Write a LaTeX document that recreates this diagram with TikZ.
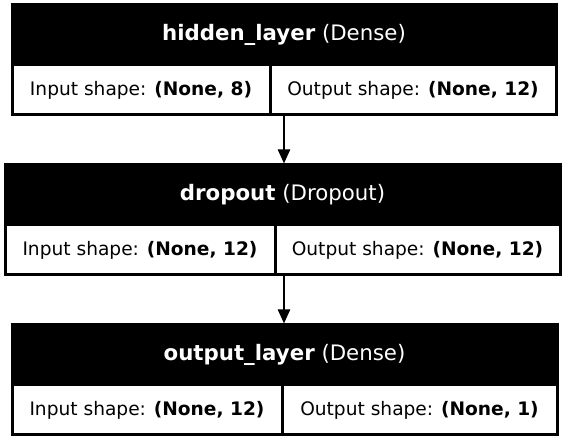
\documentclass[tikz,border=0pt]{standalone}
\usepackage{fontspec}
\setmainfont{DejaVu Sans}
\usetikzlibrary{arrows.meta}
\tikzset{
  layer_box/.style = {rectangle, draw=black, line width=3pt, inner sep=0pt,
    align=center},
  layer_head/.style = {layer_box, fill=black, text=white, minimum height=60pt,
    font=\fontsize{21.3}{24}\selectfont},% titre de la couche
  layer_cell/.style = {layer_box, fill=white, minimum height=50pt,
    font=\fontsize{18.6}{22}\selectfont},% forme entree / sortie
  flow/.style = {line width=2.3pt, -{Triangle[length=14pt,width=12pt]}}
}

\begin{document}
\begin{tikzpicture}[x=1pt, y=1pt]
		\useasboundingbox (0,0) rectangle (568,-443);
		% hidden_layer
		\node [layer_head, minimum width=544pt] (hl_head) at (284,-35) {\textbf{hidden\_layer} (Dense)};
		\node [layer_cell, minimum width=258pt] (hl_in) at (141,-90) {Input shape: \textbf{(None, 8)}};
		\node [layer_cell, minimum width=286pt] (hl_out) at (413,-90) {Output shape: \textbf{(None, 12)}};
		% dropout
		\node [layer_head, minimum width=555pt] (do_head) at (282.5,-195) {\textbf{dropout} (Dropout)};
		\node [layer_cell, minimum width=270pt] (do_in) at (140,-250) {Input shape: \textbf{(None, 12)}};
		\node [layer_cell, minimum width=285pt] (do_out) at (417.5,-250) {Output shape: \textbf{(None, 12)}};
		% output_layer
		\node [layer_head, minimum width=545pt] (ol_head) at (284.5,-355) {\textbf{output\_layer} (Dense)};
		\node [layer_cell, minimum width=270pt] (ol_in) at (147,-410) {Input shape: \textbf{(None, 12)}};
		\node [layer_cell, minimum width=275pt] (ol_out) at (419.5,-410) {Output shape: \textbf{(None, 1)}};
		% fleches
		\draw [flow] (hl_head.center |- hl_in.south) -- (hl_head.center |- do_head.north);
		\draw [flow] (hl_head.center |- do_in.south) -- (hl_head.center |- ol_head.north);
	\end{tikzpicture}
\end{document}
